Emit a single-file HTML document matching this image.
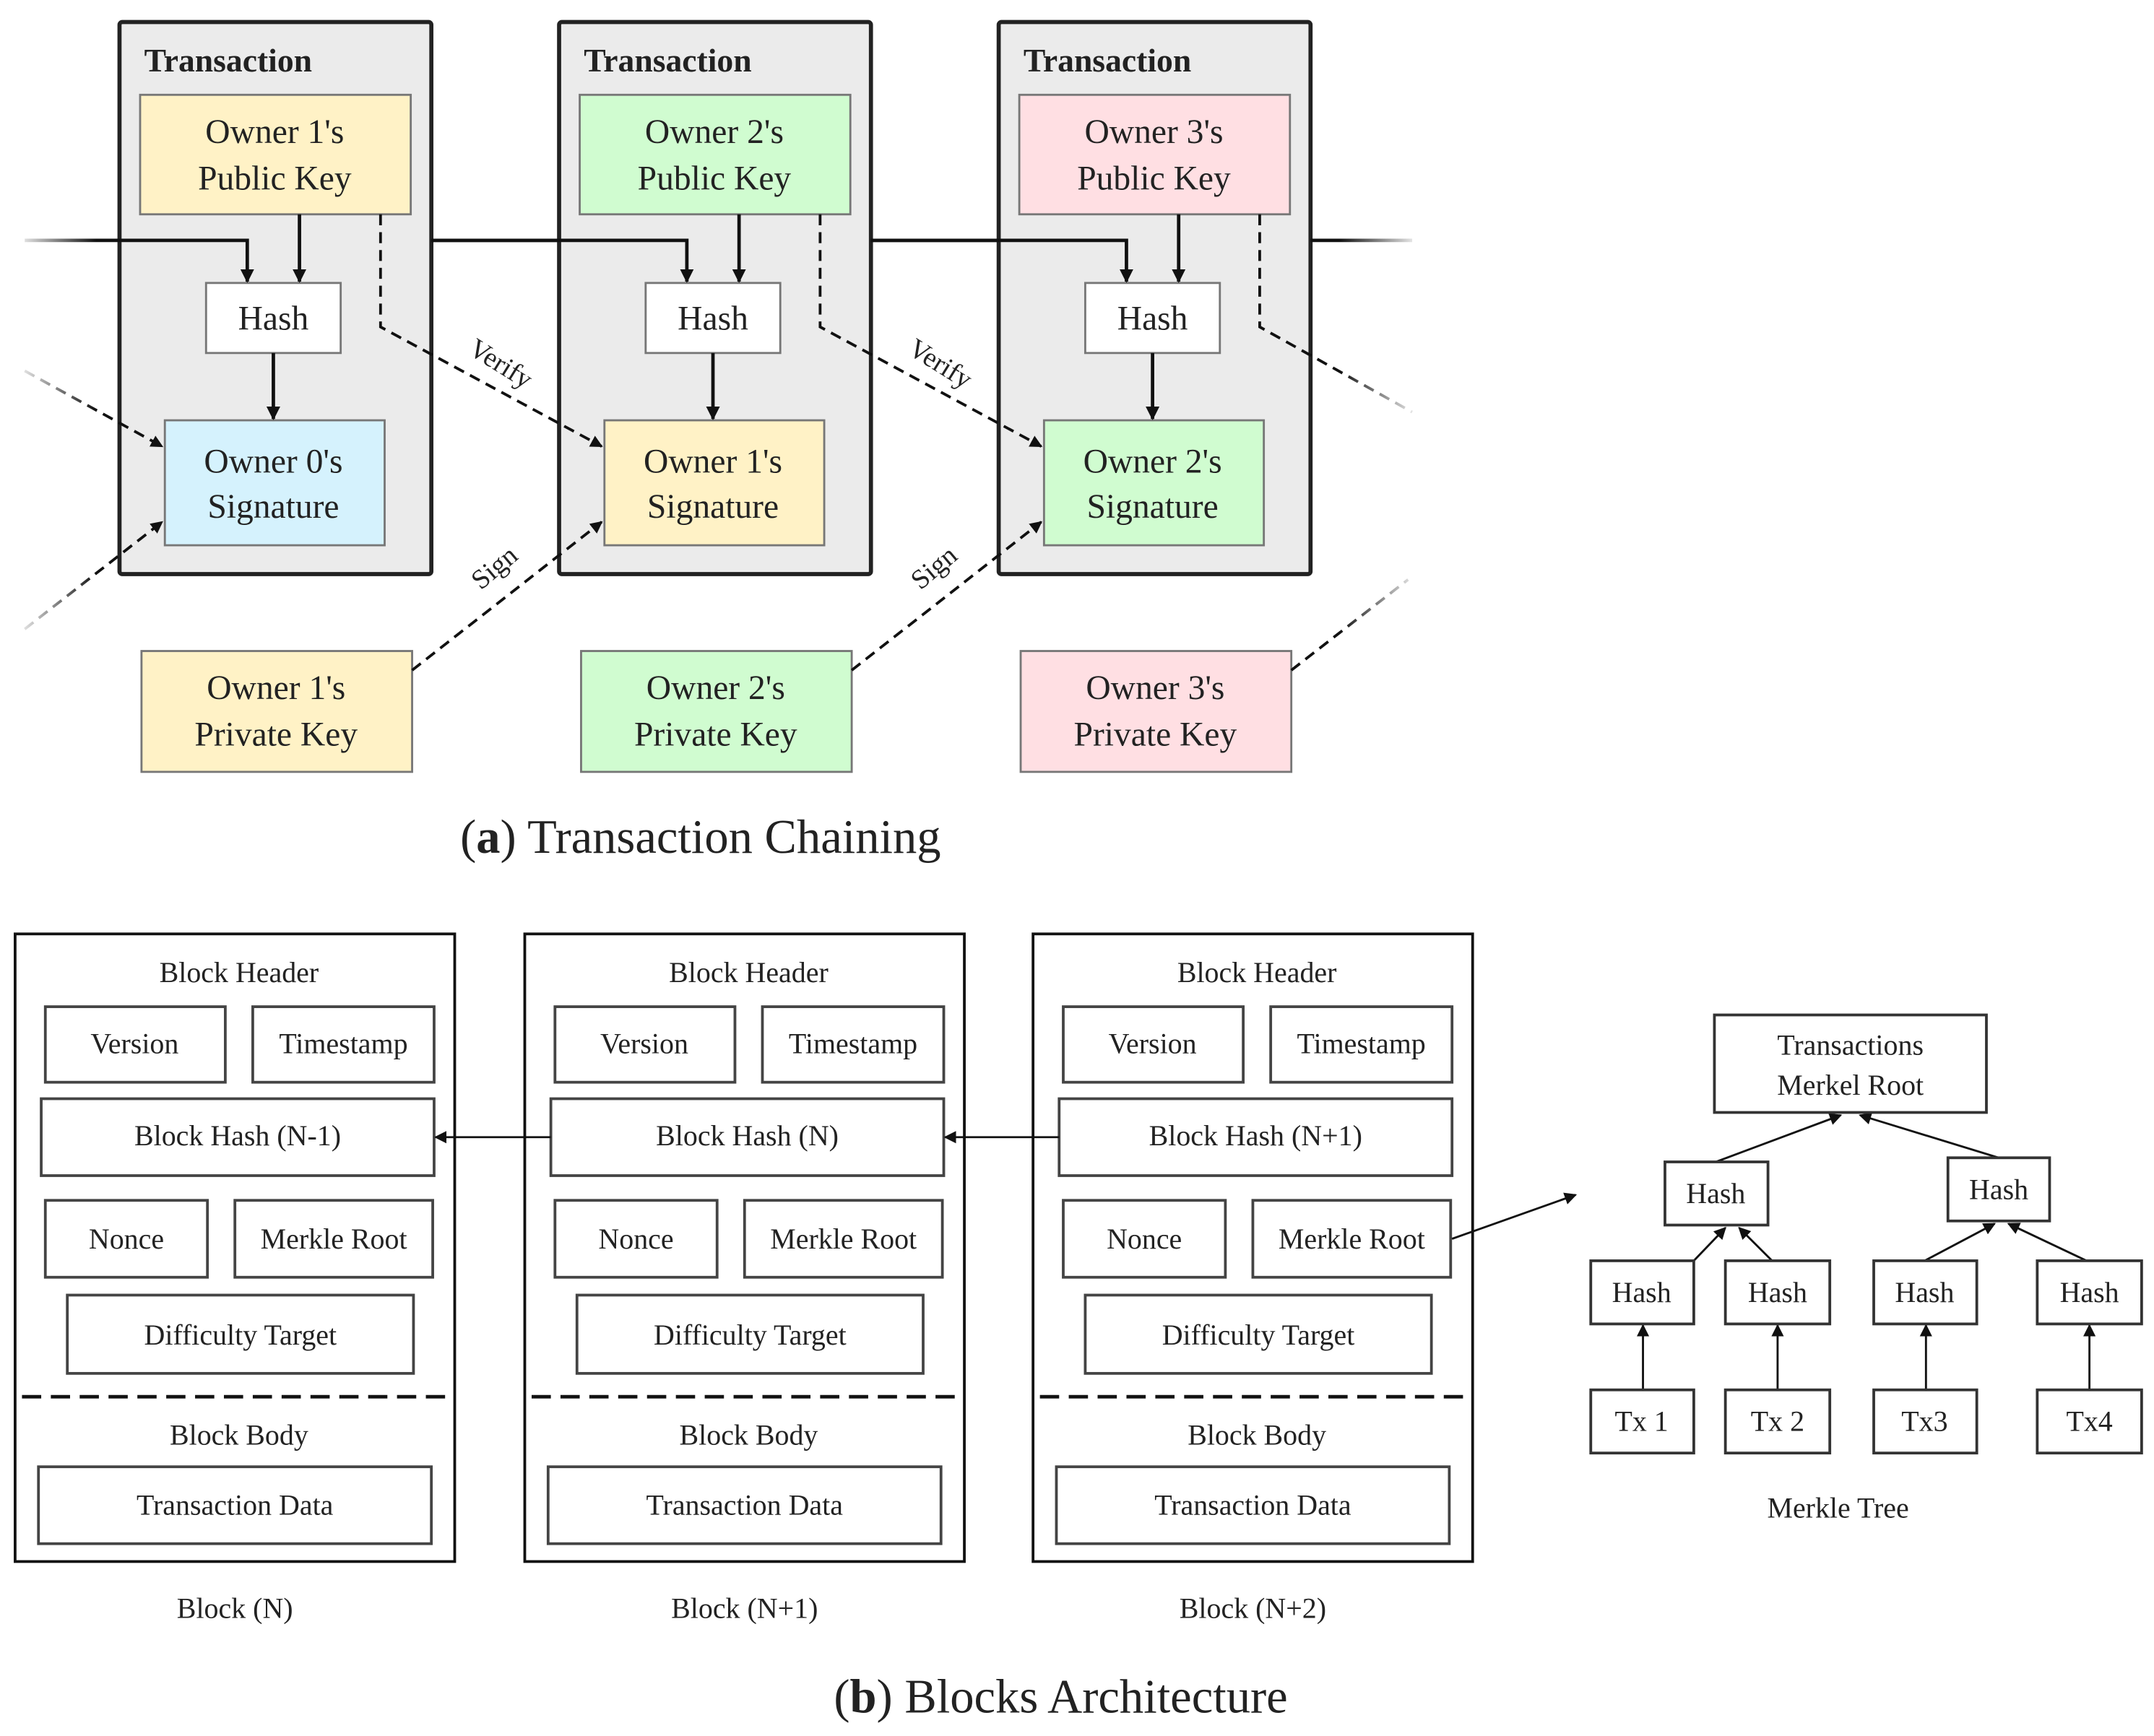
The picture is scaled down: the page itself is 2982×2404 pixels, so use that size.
<!DOCTYPE html>
<html><head><meta charset="utf-8"><style>
html,body{margin:0;padding:0;background:#fff;}
svg{display:block;}
text{font-family:"Liberation Serif",serif;fill:#222;}
</style></head><body>
<svg width="2982" height="2404" viewBox="0 0 1568 1264" xmlns="http://www.w3.org/2000/svg">
<defs>
<marker id="ah" markerWidth="10" markerHeight="10" refX="9" refY="5" orient="auto" markerUnits="userSpaceOnUse"><path d="M0,0 L10,5 L0,10 z" fill="#111"/></marker>
<marker id="as" markerWidth="9" markerHeight="9" refX="8" refY="4.5" orient="auto" markerUnits="userSpaceOnUse"><path d="M0,0 L9,4.5 L0,9 z" fill="#111"/></marker>
<linearGradient id="fl" x1="0" x2="1"><stop offset="0" stop-color="#fff" stop-opacity="1"/><stop offset="1" stop-color="#fff" stop-opacity="0"/></linearGradient>
<linearGradient id="fr" x1="0" x2="1"><stop offset="0" stop-color="#fff" stop-opacity="0"/><stop offset="1" stop-color="#fff" stop-opacity="1"/></linearGradient>
</defs>

<g>
<rect x="87" y="16" width="227" height="402" fill="#ebebeb" stroke="#222" stroke-width="3" rx="2"/>
<text x="105" y="52" font-size="24" font-weight="bold">Transaction</text>
<rect x="102" y="69" width="197" height="87" fill="#fff2c6" stroke="#777" stroke-width="1.5"/>
<text x="200" y="104" font-size="25" text-anchor="middle">Owner 1's</text>
<text x="200" y="138" font-size="25" text-anchor="middle">Public Key</text>
<rect x="150" y="206" width="98" height="51" fill="#fff" stroke="#777" stroke-width="1.5"/>
<text x="199" y="240" font-size="25" text-anchor="middle">Hash</text>
<rect x="120" y="306" width="160" height="91" fill="#d5f2fd" stroke="#777" stroke-width="1.5"/>
<text x="199" y="344" font-size="25" text-anchor="middle">Owner 0's</text>
<text x="199" y="377" font-size="25" text-anchor="middle">Signature</text>
<line x1="218" y1="156" x2="218" y2="205" stroke="#111" stroke-width="2.5" marker-end="url(#ah)"/>
<line x1="199" y1="257" x2="199" y2="305" stroke="#111" stroke-width="2.5" marker-end="url(#ah)"/>
<polyline points="18,175 180,175 180,205" fill="none" stroke="#111" stroke-width="2.5" marker-end="url(#ah)"/>
<rect x="103" y="474" width="197" height="88" fill="#fff2c6" stroke="#777" stroke-width="1.5"/>
<text x="201" y="509" font-size="25" text-anchor="middle">Owner 1's</text>
<text x="201" y="543" font-size="25" text-anchor="middle">Private Key</text>
</g>
<g transform="translate(320,0)">
<rect x="87" y="16" width="227" height="402" fill="#ebebeb" stroke="#222" stroke-width="3" rx="2"/>
<text x="105" y="52" font-size="24" font-weight="bold">Transaction</text>
<rect x="102" y="69" width="197" height="87" fill="#d0fcd0" stroke="#777" stroke-width="1.5"/>
<text x="200" y="104" font-size="25" text-anchor="middle">Owner 2's</text>
<text x="200" y="138" font-size="25" text-anchor="middle">Public Key</text>
<rect x="150" y="206" width="98" height="51" fill="#fff" stroke="#777" stroke-width="1.5"/>
<text x="199" y="240" font-size="25" text-anchor="middle">Hash</text>
<rect x="120" y="306" width="160" height="91" fill="#fff2c6" stroke="#777" stroke-width="1.5"/>
<text x="199" y="344" font-size="25" text-anchor="middle">Owner 1's</text>
<text x="199" y="377" font-size="25" text-anchor="middle">Signature</text>
<line x1="218" y1="156" x2="218" y2="205" stroke="#111" stroke-width="2.5" marker-end="url(#ah)"/>
<line x1="199" y1="257" x2="199" y2="305" stroke="#111" stroke-width="2.5" marker-end="url(#ah)"/>
<polyline points="-6,175 180,175 180,205" fill="none" stroke="#111" stroke-width="2.5" marker-end="url(#ah)"/>
<rect x="103" y="474" width="197" height="88" fill="#d0fcd0" stroke="#777" stroke-width="1.5"/>
<text x="201" y="509" font-size="25" text-anchor="middle">Owner 2's</text>
<text x="201" y="543" font-size="25" text-anchor="middle">Private Key</text>
</g>
<g transform="translate(640,0)">
<rect x="87" y="16" width="227" height="402" fill="#ebebeb" stroke="#222" stroke-width="3" rx="2"/>
<text x="105" y="52" font-size="24" font-weight="bold">Transaction</text>
<rect x="102" y="69" width="197" height="87" fill="#ffdfe3" stroke="#777" stroke-width="1.5"/>
<text x="200" y="104" font-size="25" text-anchor="middle">Owner 3's</text>
<text x="200" y="138" font-size="25" text-anchor="middle">Public Key</text>
<rect x="150" y="206" width="98" height="51" fill="#fff" stroke="#777" stroke-width="1.5"/>
<text x="199" y="240" font-size="25" text-anchor="middle">Hash</text>
<rect x="120" y="306" width="160" height="91" fill="#d0fcd0" stroke="#777" stroke-width="1.5"/>
<text x="199" y="344" font-size="25" text-anchor="middle">Owner 2's</text>
<text x="199" y="377" font-size="25" text-anchor="middle">Signature</text>
<line x1="218" y1="156" x2="218" y2="205" stroke="#111" stroke-width="2.5" marker-end="url(#ah)"/>
<line x1="199" y1="257" x2="199" y2="305" stroke="#111" stroke-width="2.5" marker-end="url(#ah)"/>
<polyline points="-6,175 180,175 180,205" fill="none" stroke="#111" stroke-width="2.5" marker-end="url(#ah)"/>
<rect x="103" y="474" width="197" height="88" fill="#ffdfe3" stroke="#777" stroke-width="1.5"/>
<text x="201" y="509" font-size="25" text-anchor="middle">Owner 3's</text>
<text x="201" y="543" font-size="25" text-anchor="middle">Private Key</text>
</g>
<line x1="314" y1="175" x2="407" y2="175" stroke="#111" stroke-width="2.5"/>
<line x1="634" y1="175" x2="727" y2="175" stroke="#111" stroke-width="2.5"/>
<line x1="954" y1="175" x2="1028" y2="175" stroke="#111" stroke-width="2.5"/>
<g fill="none" stroke="#111" stroke-width="2" stroke-dasharray="8,5">
<polyline points="277,156 277,238 438,325" marker-end="url(#as)"/>
<polyline points="597,156 597,238 758,325" marker-end="url(#as)"/>
<polyline points="917,156 917,238 1028,300"/>
<line x1="300" y1="488" x2="438" y2="380" marker-end="url(#as)"/>
<line x1="620" y1="488" x2="758" y2="380" marker-end="url(#as)"/>
<line x1="940" y1="488" x2="1025" y2="422"/>
<line x1="18" y1="270" x2="118" y2="325" marker-end="url(#as)"/>
<line x1="18" y1="458" x2="118" y2="380" marker-end="url(#as)"/>
</g>
<rect x="10" y="150" width="60" height="320" fill="url(#fl)"/>
<rect x="975" y="150" width="60" height="330" fill="url(#fr)"/>
<g font-size="20">
<text transform="translate(340,257) rotate(32)">Verify</text>
<text transform="translate(660,257) rotate(32)">Verify</text>
<text transform="translate(350,430) rotate(-40)">Sign</text>
<text transform="translate(670,430) rotate(-40)">Sign</text>
</g>
<text x="335" y="621" font-size="35">(<tspan font-weight="bold">a</tspan>)  Transaction Chaining</text>

<g font-size="21" text-anchor="middle">
<rect x="11" y="680" width="320" height="457" fill="#fff" stroke="#111" stroke-width="2"/>
<text x="174" y="715">Block Header</text>
<g fill="#fff" stroke="#444" stroke-width="2">
<rect x="33" y="733" width="131" height="55"/><rect x="184" y="733" width="132" height="55"/>
<rect x="30" y="800" width="286" height="56"/>
<rect x="33" y="874" width="118" height="56"/><rect x="171" y="874" width="144" height="56"/>
<rect x="49" y="943" width="252" height="57"/>
<rect x="28" y="1068" width="286" height="56"/>
</g>
<text x="98" y="767">Version</text><text x="250" y="767">Timestamp</text>
<text x="173" y="834">Block Hash (N-1)</text>
<text x="92" y="909">Nonce</text><text x="243" y="909">Merkle Root</text>
<text x="175" y="979">Difficulty Target</text>
<line x1="16" y1="1017" x2="327" y2="1017" stroke="#111" stroke-width="2.5" stroke-dasharray="14,7"/>
<text x="174" y="1052">Block Body</text>
<text x="171" y="1103">Transaction Data</text>
<text x="171" y="1178">Block (N)</text>
</g>
<g transform="translate(371,0)" font-size="21" text-anchor="middle">
<rect x="11" y="680" width="320" height="457" fill="#fff" stroke="#111" stroke-width="2"/>
<text x="174" y="715">Block Header</text>
<g fill="#fff" stroke="#444" stroke-width="2">
<rect x="33" y="733" width="131" height="55"/><rect x="184" y="733" width="132" height="55"/>
<rect x="30" y="800" width="286" height="56"/>
<rect x="33" y="874" width="118" height="56"/><rect x="171" y="874" width="144" height="56"/>
<rect x="49" y="943" width="252" height="57"/>
<rect x="28" y="1068" width="286" height="56"/>
</g>
<text x="98" y="767">Version</text><text x="250" y="767">Timestamp</text>
<text x="173" y="834">Block Hash (N)</text>
<text x="92" y="909">Nonce</text><text x="243" y="909">Merkle Root</text>
<text x="175" y="979">Difficulty Target</text>
<line x1="16" y1="1017" x2="327" y2="1017" stroke="#111" stroke-width="2.5" stroke-dasharray="14,7"/>
<text x="174" y="1052">Block Body</text>
<text x="171" y="1103">Transaction Data</text>
<text x="171" y="1178">Block (N+1)</text>
</g>
<g transform="translate(741,0)" font-size="21" text-anchor="middle">
<rect x="11" y="680" width="320" height="457" fill="#fff" stroke="#111" stroke-width="2"/>
<text x="174" y="715">Block Header</text>
<g fill="#fff" stroke="#444" stroke-width="2">
<rect x="33" y="733" width="131" height="55"/><rect x="184" y="733" width="132" height="55"/>
<rect x="30" y="800" width="286" height="56"/>
<rect x="33" y="874" width="118" height="56"/><rect x="171" y="874" width="144" height="56"/>
<rect x="49" y="943" width="252" height="57"/>
<rect x="28" y="1068" width="286" height="56"/>
</g>
<text x="98" y="767">Version</text><text x="250" y="767">Timestamp</text>
<text x="173" y="834">Block Hash (N+1)</text>
<text x="92" y="909">Nonce</text><text x="243" y="909">Merkle Root</text>
<text x="175" y="979">Difficulty Target</text>
<line x1="16" y1="1017" x2="327" y2="1017" stroke="#111" stroke-width="2.5" stroke-dasharray="14,7"/>
<text x="174" y="1052">Block Body</text>
<text x="171" y="1103">Transaction Data</text>
<text x="171" y="1178">Block (N+2)</text>
</g>
<g stroke="#111" stroke-width="1.5" fill="none">
<line x1="401" y1="828" x2="317" y2="828" marker-end="url(#as)"/>
<line x1="771" y1="828" x2="688" y2="828" marker-end="url(#as)"/>
<line x1="1057" y1="902" x2="1147" y2="870" marker-end="url(#as)"/>
<line x1="1249" y1="846" x2="1340" y2="812" marker-end="url(#as)"/>
<line x1="1455" y1="843" x2="1354" y2="812" marker-end="url(#as)"/>
<line x1="1233" y1="918" x2="1256" y2="894" marker-end="url(#as)"/>
<line x1="1290" y1="918" x2="1266" y2="894" marker-end="url(#as)"/>
<line x1="1401" y1="918" x2="1452" y2="891" marker-end="url(#as)"/>
<line x1="1519" y1="918" x2="1462" y2="891" marker-end="url(#as)"/>
<line x1="1196" y1="1012" x2="1196" y2="965" marker-end="url(#as)"/>
<line x1="1294" y1="1012" x2="1294" y2="965" marker-end="url(#as)"/>
<line x1="1402" y1="1012" x2="1402" y2="965" marker-end="url(#as)"/>
<line x1="1521" y1="1012" x2="1521" y2="965" marker-end="url(#as)"/>
</g>
<g fill="#fff" stroke="#333" stroke-width="2">
<rect x="1248" y="739" width="198" height="71"/>
<rect x="1212" y="846" width="75" height="46"/>
<rect x="1418" y="843" width="74" height="46"/>
<rect x="1158" y="918" width="75" height="46"/><rect x="1256" y="918" width="76" height="46"/>
<rect x="1364" y="918" width="75" height="46"/><rect x="1483" y="918" width="76" height="46"/>
<rect x="1158" y="1012" width="75" height="46"/><rect x="1256" y="1012" width="76" height="46"/>
<rect x="1364" y="1012" width="75" height="46"/><rect x="1483" y="1012" width="76" height="46"/>
</g>
<g font-size="21" text-anchor="middle">
<text x="1347" y="768">Transactions</text>
<text x="1347" y="797">Merkel Root</text>
<text x="1249" y="876">Hash</text><text x="1455" y="873">Hash</text>
<text x="1195" y="948">Hash</text><text x="1294" y="948">Hash</text>
<text x="1401" y="948">Hash</text><text x="1521" y="948">Hash</text>
<text x="1195" y="1042">Tx 1</text><text x="1294" y="1042">Tx 2</text>
<text x="1401" y="1042">Tx3</text><text x="1521" y="1042">Tx4</text>
<text x="1338" y="1105">Merkle Tree</text>
</g>
<text x="607" y="1247" font-size="35">(<tspan font-weight="bold">b</tspan>)  Blocks Architecture</text>
</svg>
</body></html>
